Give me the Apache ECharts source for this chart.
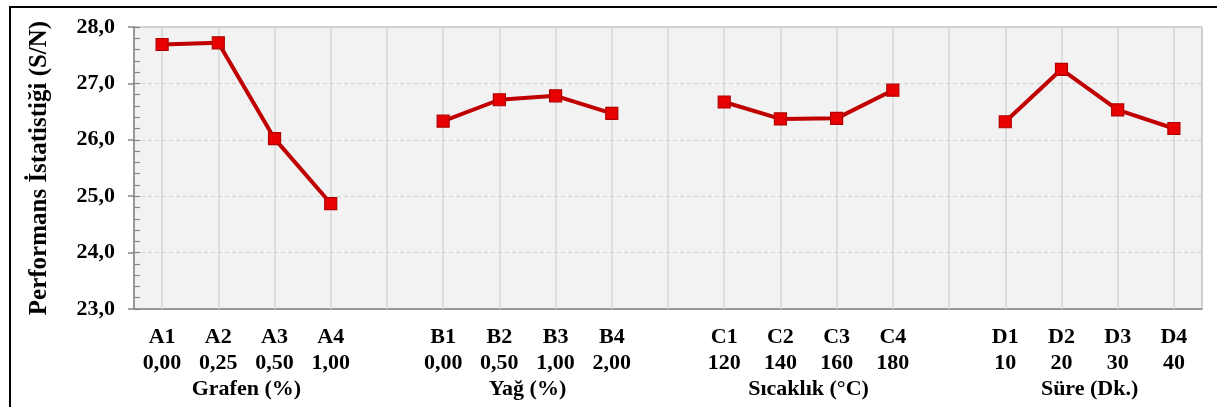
<!DOCTYPE html>
<html>
<head>
<meta charset="utf-8">
<script src="https://cdn.jsdelivr.net/npm/echarts@6/dist/echarts.min.js"></script>
<style>
  html, body { margin: 0; padding: 0; background: #fff; }
  #chart { width: 1217px; height: 407px; }
</style>
</head>
<body>
<div id="chart"></div>
<script>
// Factor levels (codes and settings) and their mean S/N ratios
const factorNames = ['Grafen (%)', 'Yağ (%)', 'Sıcaklık (°C)', 'Süre (Dk.)'];
const levelCodes = [
  ['A1', 'A2', 'A3', 'A4'],
  ['B1', 'B2', 'B3', 'B4'],
  ['C1', 'C2', 'C3', 'C4'],
  ['D1', 'D2', 'D3', 'D4']
];
const levelSettings = [
  ['0,00', '0,25', '0,50', '1,00'],
  ['0,00', '0,50', '1,00', '2,00'],
  ['120', '140', '160', '180'],
  ['10', '20', '30', '40']
];
const snA = [27.69, 27.72, 26.02, 24.87];
const snB = [26.33, 26.71, 26.78, 26.47];
const snC = [26.67, 26.37, 26.38, 26.88];
const snD = [26.32, 27.25, 26.53, 26.20];
const yTicks = [23, 24, 25, 26, 27, 28];

// Flatten the four factors onto one category axis with an empty slot between groups
const categories = [];
const settingOf = {};
const values = [];
const groupRanges = [];
[snA, snB, snC, snD].forEach((vals, g) => {
  if (g > 0) {
    const gapName = ' '.repeat(g);
    categories.push(gapName);
    values.push(null);
  }
  const start = categories.length;
  levelCodes[g].forEach((code, i) => {
    categories.push(code);
    settingOf[code] = levelSettings[g][i];
    values.push(vals[i]);
  });
  groupRanges.push([start, categories.length - 1]);
});

const serif = '"Liberation Serif", "Times New Roman", serif';
const chart = echarts.init(document.getElementById('chart'), null, { renderer: 'canvas' });

chart.setOption({
  animation: false,
  backgroundColor: '#ffffff',
  grid: {
    left: 134, right: 15, top: 27, bottom: 98,
    show: true, backgroundColor: '#f2f2f2',
    borderColor: '#a6a6a6', borderWidth: 1
  },
  xAxis: {
    type: 'category',
    data: categories,
    boundaryGap: true,
    axisLine: { lineStyle: { color: '#868686', width: 1.5 } },
    axisTick: { show: false },
    splitLine: { show: false },
    axisLabel: {
      interval: 0,
      margin: 15,
      fontFamily: serif,
      fontWeight: 'bold',
      fontSize: 22,
      color: '#000',
      lineHeight: 26,
      formatter: (v) => (settingOf[v] ? v + '\n' + settingOf[v] : '')
    }
  },
  yAxis: [{
    type: 'value',
    min: yTicks[0],
    max: yTicks[yTicks.length - 1],
    interval: 1,
    name: 'Performans İstatistiği (S/N)',
    nameLocation: 'middle',
    nameGap: 82,
    nameRotate: 90,
    nameTextStyle: { fontFamily: serif, fontWeight: 'bold', fontSize: 25, color: '#000' },
    axisLine: { show: true, lineStyle: { color: '#868686', width: 1.5 } },
    axisTick: { show: true, length: 6, lineStyle: { color: '#868686', width: 1.5 } },
    splitLine: { show: true, lineStyle: { color: '#d0d0d0', type: [4, 3], width: 1 } },
    axisLabel: {
      margin: 19,
      fontFamily: serif,
      fontWeight: 'bold',
      fontSize: 22,
      color: '#000',
      formatter: (v) => v.toFixed(1).replace('.', ',')
    }
  }, {
    // inner minor ticks every 0,2
    type: 'value',
    min: yTicks[0],
    max: yTicks[yTicks.length - 1],
    interval: 0.2,
    position: 'left',
    offset: 0,
    axisLine: { show: false },
    axisTick: { show: true, inside: true, length: 6, lineStyle: { color: '#868686', width: 1.2 } },
    axisLabel: { show: false },
    splitLine: { show: false }
  }],
  series: [{
    // vertical grid lines through every category slot
    type: 'line',
    data: [],
    silent: true,
    z: 1,
    markLine: {
      z: 1,
      silent: true,
      symbol: 'none',
      label: { show: false },
      lineStyle: { color: '#d6d6d6', type: 'solid', width: 1.5 },
      data: categories.map((c, i) => ({ xAxis: i }))
    }
  }, {
    type: 'line',
    data: values,
    connectNulls: false,
    z: 6,
    symbol: 'rect',
    symbolSize: 12,
    lineStyle: { color: '#c00000', width: 4 },
    itemStyle: { color: '#e80000', borderColor: '#b00000', borderWidth: 1.2 }
  }]
});

// Factor titles centred under each group, plus the outer frame
const titleY = 389;
const graphics = [{
  type: 'rect',
  shape: { x: 10, y: 7, width: 1240, height: 440 },
  style: { fill: null, stroke: '#000', lineWidth: 2 },
  silent: true
}];
groupRanges.forEach((r, g) => {
  const x0 = chart.convertToPixel({ xAxisIndex: 0 }, categories[r[0]]);
  const x1 = chart.convertToPixel({ xAxisIndex: 0 }, categories[r[1]]);
  graphics.push({
    type: 'text',
    x: (x0 + x1) / 2,
    y: titleY,
    style: {
      text: factorNames[g],
      font: 'bold 22px ' + serif,
      fill: '#000',
      align: 'center',
      verticalAlign: 'middle'
    },
    silent: true
  });
});
chart.setOption({ graphic: graphics });
</script>
</body>
</html>
